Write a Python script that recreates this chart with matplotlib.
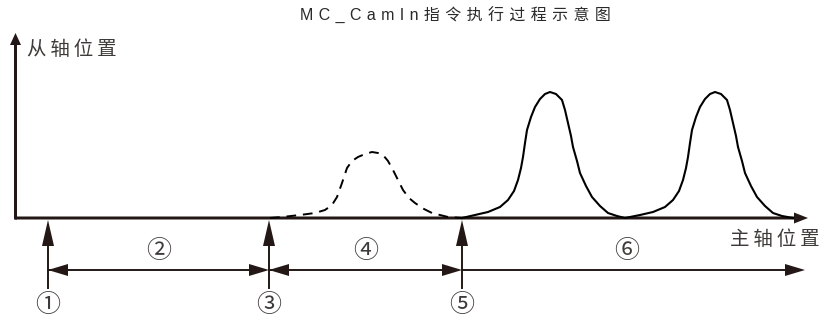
"""MC_CamIn execution schematic: slave position vs master position."""

import matplotlib
matplotlib.use("Agg")
import matplotlib.pyplot as plt  # noqa: E402

INK = "#231815"
TEXT = "#3e3a39"
CJK = ["Liberation Sans", "Noto Sans CJK SC", "DejaVu Sans"]

# master positions of the events (1), (3), (5), and the end of phase (6)
EVENT_X = [48, 269, 462]
EVENT_LABELS = ["①", "③", "⑤"]
PHASE_LABELS = ["②", "④", "⑥"]
PHASE_END = 805

# dashed cam profile during phase (4)
DASH_X = [270, 282, 300, 315, 325, 332, 337, 342, 347, 352, 358, 365, 372, 378,
          383, 388, 393, 398, 403, 409, 415, 424, 432, 440, 448, 455, 462]
DASH_Y = [0, 1, 3, 5, 8, 13, 21, 35, 50, 57, 61, 64, 66, 65,
          63, 57, 48, 38, 28, 20, 15, 9, 5, 3, 1, 0.5, 0]

# solid cam profile during phase (6), two cycles
CAM_X = [462, 475, 488, 500, 508, 514, 518, 521, 523, 525, 527, 531, 535, 540,
         545, 550, 556, 562, 565, 568, 571, 573, 577, 580, 586, 592, 600, 608,
         617, 625,
         640, 653, 665, 673, 679, 683, 686, 688, 690, 692, 696, 700, 705, 710,
         715, 721, 727, 730, 733, 736, 738, 742, 745, 751, 757, 765, 773, 782,
         793]
CAM_Y = [0, 3, 6, 11, 18, 27, 38, 50, 61, 75, 88, 101, 111, 119,
         124, 126, 124, 118, 108, 95, 82, 71, 57, 45, 32, 21, 12, 5,
         2, 0,
         3, 6, 11, 18, 27, 38, 50, 61, 75, 88, 101, 111, 119, 124,
         126, 124, 118, 108, 95, 82, 71, 57, 45, 32, 21, 12, 5, 2,
         0]

X_AXIS = (15, 808)
Y_AXIS_TOP = 185

TITLE = "MC_CamIn指令执行过程示意图"


def main():
    fig = plt.figure(figsize=(8.21, 3.22), dpi=100)
    ax = fig.add_axes([0, 0, 1, 1])
    ax.set_xlim(0, 821)
    ax.set_ylim(-104, 218)
    ax.axis("off")

    # axes with arrow heads
    ax.arrow(X_AXIS[0], 0, X_AXIS[1] - X_AXIS[0], 0, width=3, head_width=11,
             head_length=14, length_includes_head=True, color=INK, lw=0)
    ax.arrow(X_AXIS[0] + 0.5, -1.5, 0, Y_AXIS_TOP + 1.5, width=3, head_width=11,
             head_length=12, length_includes_head=True, color=INK, lw=0)

    # cam curves
    ax.plot(DASH_X, DASH_Y, color="black", lw=1.4, ls=(0, (5, 3.5)))
    ax.plot(CAM_X, CAM_Y, color="black", lw=1.5, solid_joinstyle="round")

    # event markers below the axis
    for x, lab in zip(EVENT_X, EVENT_LABELS):
        ax.plot([x, x], [-70, -20], color=INK, lw=1.4)
        ax.arrow(x, -30, 0, 28, width=0, head_width=12, head_length=26,
                 length_includes_head=True, color=INK, lw=0)
        ax.text(x, -87, lab, ha="center", va="center", fontsize=18,
                family=["Noto Sans CJK SC"], color=TEXT)

    # phase spans
    y = -52
    ends = EVENT_X[1:] + [PHASE_END]
    for i, (a, b, lab) in enumerate(zip(EVENT_X, ends, PHASE_LABELS)):
        ax.plot([a, b - 5], [y, y], color=INK, lw=1.4)
        ax.arrow(b - 20, y, 20, 0, width=0, head_width=12, head_length=20,
                 length_includes_head=True, color=INK, lw=0)
        if i < 2:
            ax.arrow(a + 20, y, -20, 0, width=0, head_width=12, head_length=20,
                     length_includes_head=True, color=INK, lw=0)
        cx = (a + b) / 2 if i < 2 else 627
        ax.text(cx, -33, lab, ha="center", va="center", fontsize=18,
                family=["Noto Sans CJK SC"], color=TEXT)

    ax.text(27, 168, "\u2009".join("从轴位置"), ha="left", va="center",
            fontsize=14, family=CJK, color=TEXT)
    ax.text(820, -22, "\u2009".join("主轴位置"), ha="right", va="center",
            fontsize=14, family=CJK, color=TEXT)
    ax.text(300, 203, "\u2004".join(TITLE), ha="left", va="center",
            fontsize=11.5, family=CJK, color="#2a2a2a")

    fig.savefig("out.png", dpi=100)
    plt.close(fig)


if __name__ == "__main__":
    main()
